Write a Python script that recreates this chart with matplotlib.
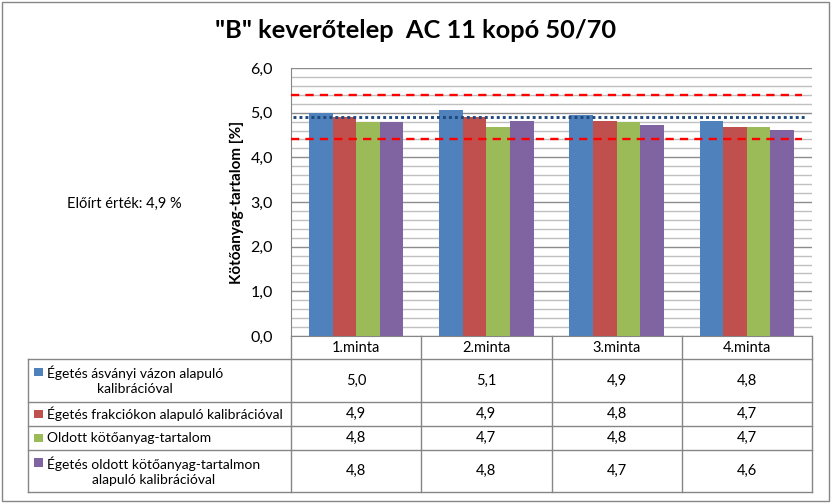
import numpy as np
import matplotlib
matplotlib.use("Agg")
import matplotlib.pyplot as plt
from matplotlib.patches import Rectangle
from matplotlib.lines import Line2D

plt.rcParams['font.family'] = ['Lato', 'DejaVu Sans']

# adatok
categories = ['1.minta', '2.minta', '3.minta', '4.minta']
series_names = [
    'Égetés ásványi vázon alapuló\nkalibrációval',
    'Égetés frakciókon alapuló kalibrációval',
    'Oldott kötőanyag-tartalom',
    'Égetés oldott kötőanyag-tartalmon\nalapuló kalibrációval',
]
asvanyi = [5.00, 5.06, 4.94, 4.82]
frakcio = [4.90, 4.91, 4.81, 4.69]
oldott = [4.80, 4.69, 4.80, 4.69]
oldott_kalib = [4.78, 4.82, 4.72, 4.61]
series_values = [asvanyi, frakcio, oldott, oldott_kalib]
colors = ['#4F81BD', '#C0504D', '#9BBB59', '#8064A2']

eloirt = 4.9
felso_hatar = 5.4
also_hatar = 4.4

W, H = 831, 504
fig = plt.figure(figsize=(W / 100, H / 100), dpi=100)


def fx(x):
    return x / W


def fy(y):
    return 1 - y / H


# rajzterület pixelekben
L, R, T, B = 291, 812, 68, 336
ax = fig.add_axes([fx(L), fy(B), fx(R - L), (B - T) / H])

n = len(categories)
x = np.arange(n)
bw = 0.181
for i, (vals, c) in enumerate(zip(series_values, colors)):
    ax.bar(x + (i - 1.5) * bw, vals, width=bw, color=c, linewidth=0, zorder=3)

ax.set_xlim(-0.5, n - 0.5)
ax.set_ylim(0, 6)
ax.set_yticks(np.arange(0, 6.01, 1.0))
ax.set_yticklabels([f'{v:.1f}'.replace('.', ',') for v in np.arange(0, 6.01, 1.0)], fontsize=11.5)
ax.set_yticks(np.arange(0, 6.01, 0.2), minor=True)
ax.tick_params(axis='y', which='both', length=0, pad=13)
ax.set_xticks([])
ax.grid(axis='y', which='major', color='#8C8C8C', linewidth=1.0, zorder=0)
ax.grid(axis='y', which='minor', color='#C0C0C0', linewidth=1.0, zorder=0)
for s in ['top', 'right']:
    ax.spines[s].set_visible(False)
ax.spines['left'].set_color('#868686')
ax.spines['bottom'].set_color('#868686')
ax.set_ylabel('Kötőanyag-tartalom [%]', fontsize=11, fontweight='bold', labelpad=5)

# határértékek és előírt érték
ax.plot([-0.5, 3.42], [felso_hatar, felso_hatar], color='#FF0000', lw=1.7,
        linestyle=(0, (3.5, 2.6)), zorder=4)
ax.plot([-0.5, 3.42], [also_hatar, also_hatar], color='#FF0000', lw=1.7,
        linestyle=(0, (3.5, 2.6)), zorder=4)
ax.plot([-0.485, 3.45], [eloirt, eloirt], color='#1F497D', lw=2.1,
        linestyle=(0, (1.0, 1.05)), dash_capstyle='butt', zorder=4)

fig.text(0.5, fy(31), '"B" keverőtelep  AC 11 kopó 50/70', ha='center', va='center',
         fontsize=18.3, fontweight='bold')
fig.text(fx(67), fy(204), f'Előírt érték: {eloirt:.1f} %'.replace('.', ','),
         ha='left', va='center', fontsize=10.5)

# adattábla
line_c = '#868686'
rows = [359, 402, 426, 450, 492]
col_w = (R - L) / n
col_edges = [L + k * col_w for k in range(n + 1)]


def hline(x0, x1, y):
    fig.add_artist(Line2D([fx(x0), fx(x1)], [fy(y), fy(y)], color=line_c, lw=1))


def vline(xp, y0, y1):
    fig.add_artist(Line2D([fx(xp), fx(xp)], [fy(y0), fy(y1)], color=line_c, lw=1))


for k, xe in enumerate(col_edges):
    vline(xe, B, rows[-1])
vline(28, rows[0], rows[-1])
for yr in rows:
    hline(28, R, yr)

for k, cat in enumerate(categories):
    fig.text(fx(col_edges[k] + col_w / 2), fy((B + rows[0]) / 2), cat,
             ha='center', va='center', fontsize=10.5)

for i, (name, vals, c) in enumerate(zip(series_names, series_values, colors)):
    yc = (rows[i] + rows[i + 1]) / 2
    nlines = name.count('\n') + 1
    ysw = yc - 8.5 * (nlines - 1)
    fig.add_artist(Rectangle((fx(34), fy(ysw + 4.2)), 8.5 / W, 8.5 / H,
                             facecolor=c, edgecolor='none'))
    fig.text(fx(47), fy(yc), name, ha='left', va='center', multialignment='center',
             fontsize=10, linespacing=1.25)
    for k, v in enumerate(vals):
        fig.text(fx(col_edges[k] + col_w / 2), fy(yc), f'{v:.1f}'.replace('.', ','),
                 ha='center', va='center', fontsize=10.5)

# külső keret
fig.add_artist(Rectangle((fx(2), fy(501)), fx(827), (499) / H, facecolor='none',
                         edgecolor='#868686', lw=1))

fig.savefig('out.png', dpi=100)
